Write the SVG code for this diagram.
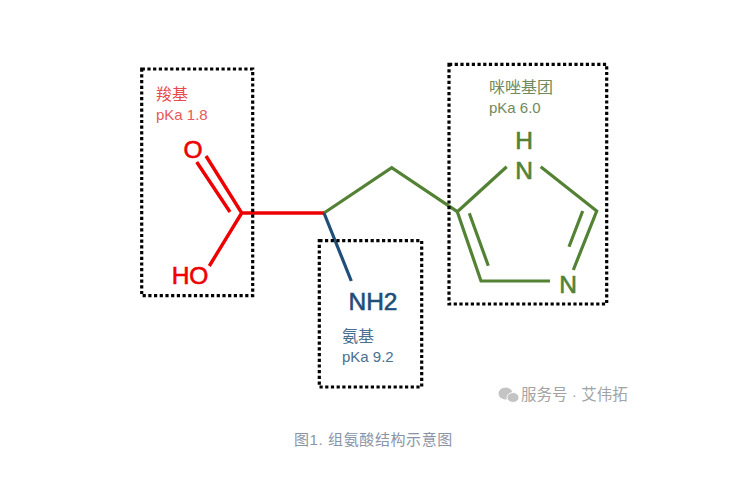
<svg xmlns="http://www.w3.org/2000/svg" width="745" height="478" viewBox="0 0 745 478">
<style>
text{font-family:"Liberation Sans","Noto Sans CJK SC",sans-serif}
.box{fill:none;stroke:#000;stroke-width:3.2;stroke-dasharray:3.2 2.5}
.bond{fill:none;stroke-width:3.2;stroke-linejoin:miter}
.red{stroke:#ee0000}.green{stroke:#548235}.blue{stroke:#1f4e79}
.atom{font-size:24.5px;stroke-width:.6}
.lab{font-size:16px}
.pka{font-size:15px}
</style>
<rect width="745" height="478" fill="#fff"/>
<g id="connectors">
<path class="bond green" d="M324 213L391.7 167.7L457.3 211.7"/>
<path class="bond red" d="M206 156L241.7 213H324M196.7 162L230 212M241.7 213L209.3 266" style="stroke-width:3.4"/>
<path class="bond blue" d="M324 213L351.3 281"/>
<path class="bond green" d="M506.7 166.7L457.3 211.7L481 281H550M540.7 166.7L596.7 211L573.3 270M582.7 211L569 246.7M469.3 213.3L488.3 265.7"/>
</g>
<g id="carboxyl">
<rect class="box" x="141.7" y="69" width="111" height="226.7"/>
<text class="lab" x="156" y="100" fill="#e84b4b">羧基</text>
<text class="pka" x="156" y="120" fill="#e8575a">pKa 1.8</text>
<text class="atom" x="193" y="158" fill="#ee0000" stroke="#ee0000" text-anchor="middle">O</text>
<text class="atom" x="190" y="284" fill="#ee0000" stroke="#ee0000" text-anchor="middle">HO</text>
</g>
<g id="amino">
<rect class="box" x="319.3" y="240.7" width="102.4" height="146.3"/>
<text class="atom" x="373" y="310" fill="#1f4e79" stroke="#1f4e79" text-anchor="middle">NH2</text>
<text class="lab" x="342" y="342" fill="#4a6f90">氨基</text>
<text class="pka" x="342" y="362" fill="#4a6f90">pKa 9.2</text>
</g>
<g id="imidazole">
<rect class="box" x="449" y="64.3" width="157.7" height="239.7"/>
<text class="lab" x="489" y="93" fill="#6f8a5c">咪唑基团</text>
<text class="pka" x="489" y="113" fill="#6f8a5c">pKa 6.0</text>
<text class="atom" x="524" y="149" fill="#548235" stroke="#548235" text-anchor="middle">H</text>
<text class="atom" x="524" y="179" fill="#548235" stroke="#548235" text-anchor="middle">N</text>
<text class="atom" x="568" y="293" fill="#548235" stroke="#548235" text-anchor="middle">N</text>
</g>
<g id="watermark">
<ellipse cx="505.5" cy="393.5" rx="7" ry="6" fill="#c4c4c4"/>
<ellipse cx="513" cy="397.5" rx="6" ry="5" fill="#c4c4c4" stroke="#fff" stroke-width="1"/>
<text x="521" y="400" fill="#a3a3a3" style="font-size:15.5px">服务号 · 艾伟拓</text>
</g>
<g id="caption">
<text x="294" y="445" fill="#8a94a6" style="font-size:15px;letter-spacing:.6px">图1. 组氨酸结构示意图</text>
</g>
</svg>
